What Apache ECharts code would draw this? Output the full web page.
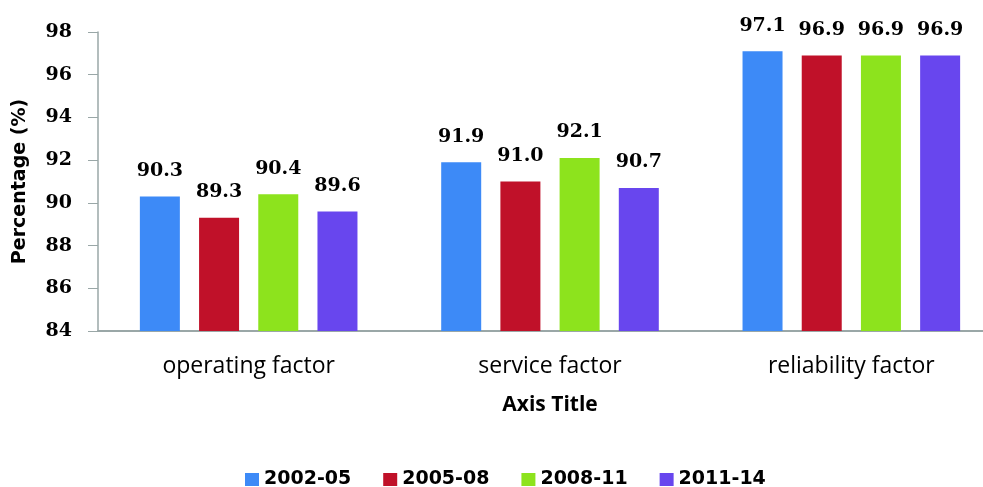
<!DOCTYPE html>
<html>
<head>
<meta charset="utf-8">
<script src="https://cdn.jsdelivr.net/npm/echarts@6/dist/echarts.min.js"></script>
<style>
  html, body { margin: 0; padding: 0; background: #fff; }
  #chart { width: 983px; height: 487px; }
</style>
</head>
<body>
<div id="chart"></div>
<script>
// factors by period, percentage
const categories = ["operating factor", "service factor", "reliability factor"];
const periods = ["2002-05", "2005-08", "2008-11", "2011-14"];
const values2002 = [90.3, 91.9, 97.1];
const values2005 = [89.3, 91.0, 96.9];
const values2008 = [90.4, 92.1, 96.9];
const values2011 = [89.6, 90.7, 96.9];
const colors = ["#3d8af7", "#c01129", "#8de31d", "#6846ee"];

const seriesValues = [values2002, values2005, values2008, values2011];
const numFont = "DejaVu Serif";
const textFont = "Open Sans";
const axisGray = "#9aa7a7";

const chart = echarts.init(document.getElementById("chart"), null, {
  renderer: "canvas",
});

chart.setOption({
  backgroundColor: "#fff",
  animation: false,
  grid: {
    left: 98,
    top: 32,
    width: 904,
    height: 299,
    outerBoundsMode: "none",
  },
  legend: {
    left: 245,
    top: 470,
    padding: 0,
    itemWidth: 14,
    itemHeight: 13,
    itemGap: 32,
    icon: "rect",
    textStyle: {
      fontFamily: "DejaVu Sans",
      fontWeight: "bold",
      fontSize: 19,
      color: "#000",
    },
    data: periods,
  },
  xAxis: {
    type: "category",
    data: categories,
    name: "Axis Title",
    nameLocation: "middle",
    nameGap: 64,
    nameTextStyle: {
      fontFamily: textFont,
      fontWeight: "bold",
      fontSize: 21,
      color: "#000",
    },
    axisLine: { lineStyle: { color: axisGray, width: 2 } },
    axisTick: { show: false },
    axisLabel: {
      margin: 24,
      fontFamily: textFont,
      fontSize: 23,
      color: "#000",
    },
  },
  yAxis: {
    type: "value",
    min: 84,
    max: 98,
    interval: 2,
    name: "Percentage (%)",
    nameLocation: "middle",
    nameGap: 68,
    nameTextStyle: {
      fontFamily: "DejaVu Sans",
      fontWeight: "bold",
      fontSize: 19,
      color: "#000",
    },
    splitLine: { show: false },
    axisLine: { show: true, lineStyle: { color: axisGray, width: 1.5 } },
    axisTick: { show: true, length: 10, lineStyle: { color: axisGray } },
    axisLabel: {
      margin: 26,
      fontFamily: numFont,
      fontWeight: "bold",
      fontSize: 19,
      color: "#000",
    },
  },
  series: periods.map((name, i) => ({
    name: name,
    type: "bar",
    data: seriesValues[i],
    barWidth: 40,
    barGap: "48%",
    itemStyle: { color: colors[i] },
    label: {
      show: true,
      position: "top",
      distance: 16,
      formatter: (p) => p.value.toFixed(1),
      fontFamily: numFont,
      fontWeight: "bold",
      fontSize: 19,
      color: "#000",
    },
  })),
});
</script>
</body>
</html>
